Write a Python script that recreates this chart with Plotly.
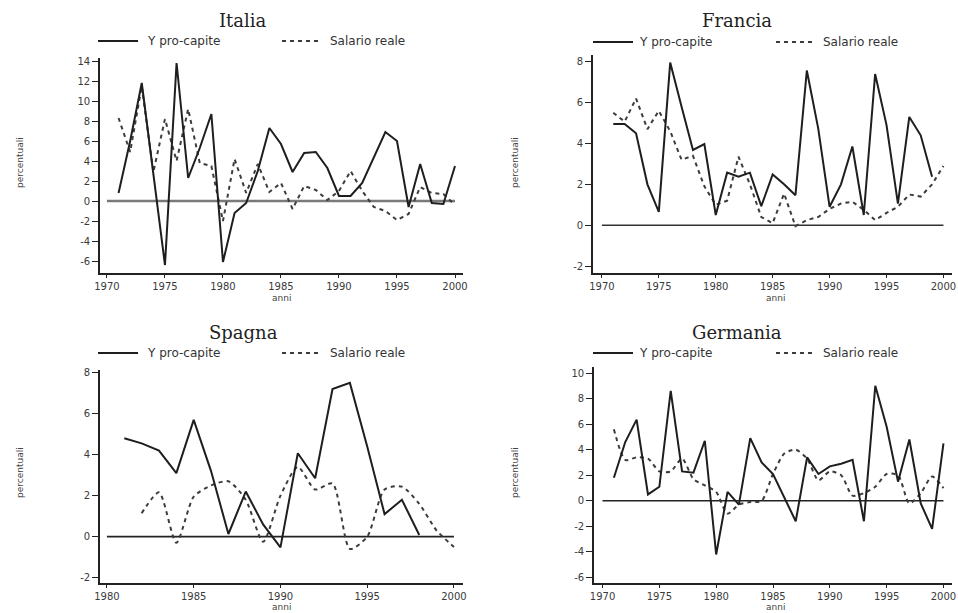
import plotly.graph_objects as go

W, H = 958, 613

# ---------------- data ----------------
years_70 = list(range(1971, 2001))
years_80 = list(range(1981, 2001))

italia_y = [0.8, 6.0, 11.8, 2.8, -6.4, 13.8, 2.3, 5.3, 8.7, -6.1, -1.2, -0.2, 3.0, 7.3, 5.7,
            2.9, 4.8, 4.9, 3.3, 0.5, 0.5, 1.8, 4.4, 6.9, 6.0, -0.6, 3.7, -0.2, -0.3, 3.5]
italia_w = [8.3, 4.9, 11.5, 2.9, 8.2, 4.0, 9.2, 3.8, 3.5, -2.0, 4.2, 0.8, 3.7, 0.9, 1.8,
            -0.8, 1.5, 1.1, 0.1, 1.0, 3.0, 1.0, -0.6, -1.0, -1.9, -1.3, 1.4, 0.8, 0.7, -0.4]

francia_y = [4.95, 4.95, 4.5, 2.0, 0.65, 7.96, 5.8, 3.68, 3.97, 0.5, 2.57, 2.37, 2.57, 0.93, 2.48,
             2.0, 1.47, 7.57, 4.74, 0.9, 2.0, 3.85, 0.5, 7.4, 4.9, 1.06, 5.3, 4.4, 2.37, None]
francia_w = [5.5, 5.07, 6.2, 4.7, 5.6, 4.6, 3.2, 3.4, 1.9, 1.0, 1.2, 3.35, 2.0, 0.4, 0.1,
             1.55, -0.05, 0.25, 0.4, 0.8, 1.06, 1.15, 0.75, 0.25, 0.6, 0.9, 1.5, 1.4, 2.0, 2.9]

spagna_y = [4.8, 4.55, 4.2, 3.1, 5.7, 3.2, 0.13, 2.2, 0.6, -0.52, 4.07, 2.85, 7.2, 7.5, 4.4,
            1.1, 1.8, 0.08, None, None]
spagna_w = [None, 1.14, 2.16, -0.3, 1.95, 2.5, 2.7, 1.8, -0.25, 2.0, 3.4, 2.3, 2.6, -0.6, 0.0,
            2.3, 2.44, 1.6, 0.3, -0.5]

germania_y = [1.8, 4.6, 6.35, 0.5, 1.1, 8.6, 2.3, 2.2, 4.7, -4.2, 0.7, -0.3, 4.9, 3.0, 2.1,
              0.3, -1.6, 3.4, 2.1, 2.7, 2.9, 3.2, -1.6, 9.0, 5.8, 1.5, 4.8, -0.2, -2.2, 4.5]
germania_w = [5.6, 3.2, 3.4, 3.3, 2.3, 2.3, 3.3, 1.7, 1.2, 0.7, -1.0, -0.3, -0.1, 0.0, 2.1,
              3.7, 4.0, 3.3, 1.6, 2.3, 2.0, 0.4, 0.6, 1.1, 2.1, 2.0, -0.2, 0.6, 1.9, 1.0]

xticks_70 = [1970, 1975, 1980, 1985, 1990, 1995, 2000]
xticks_80 = [1980, 1985, 1990, 1995, 2000]
yticks_it = [14, 12, 10, 8, 6, 4, 2, 0, -2, -4, -6]
yticks_fr = [8, 6, 4, 2, 0, -2]
yticks_sp = [8, 6, 4, 2, 0, -2]
yticks_de = [10, 8, 6, 4, 2, 0, -2, -4, -6]

legend_labels = ["Y pro-capite", "Salario reale"]
x_title = "anni"
y_title = "percentuali"

# ---------------- layout geometry (pixels) ----------------
panels = [
    dict(name="Italia", x=years_70, y=italia_y, w=italia_w, xt=xticks_70, yt=yticks_it,
         px=(100, 463), py=(58, 273), xr=(1969.40, 2000.69), yr=(-7.2, 14.3),
         zc="#7a7a7a", zw=2.6, wshape="linear",
         title=(243, 20), leg_y=41, leg=(98, 138, 145, 282, 320, 328), ytl=(20, 163), xtl=(281, 298)),
    dict(name="Francia", x=years_70, y=francia_y, w=francia_w, xt=xticks_70, yt=yticks_fr,
         px=(593, 952), py=(55, 273), xr=(1969.22, 2000.75), yr=(-2.34, 8.33),
         zc="#333333", zw=1.6, wshape="linear",
         title=(737, 20), leg_y=42, leg=(593, 633, 637, 776, 816, 821), ytl=(515, 163), xtl=(775, 298)),
    dict(name="Spagna", x=years_80, y=spagna_y, w=spagna_w, xt=xticks_80, yt=yticks_sp,
         px=(100, 463), py=(370, 583), xr=(1979.6, 2000.52), yr=(-2.26, 8.13),
         zc="#222222", zw=1.6, wshape="spline",
         title=(243, 332), leg_y=353, leg=(98, 138, 145, 282, 322, 328), ytl=(20, 473), xtl=(281, 607)),
    dict(name="Germania", x=years_70, y=germania_y, w=germania_w, xt=xticks_70, yt=yticks_de,
         px=(594, 952), py=(367, 583), xr=(1969.25, 2000.75), yr=(-6.43, 10.47),
         zc="#222222", zw=1.6, wshape="spline",
         title=(737, 332), leg_y=353, leg=(593, 633, 637, 776, 816, 821), ytl=(515, 473), xtl=(775, 607)),
]

def fx(p):
    return p / W

def fy(p):
    return 1 - p / H

fig = go.Figure()
annotations = []
shapes = []
tickfont = dict(family="DejaVu Sans", size=10, color="#3a3a3a")

for i, p in enumerate(panels, start=1):
    xa = "x" if i == 1 else f"x{i}"
    ya = "y" if i == 1 else f"y{i}"
    # zero reference line spanning the tick range
    fig.add_trace(go.Scatter(x=[min(p["xt"]), max(p["xt"])], y=[0, 0], mode="lines",
                             line=dict(color=p["zc"], width=p["zw"]),
                             xaxis=xa, yaxis=ya, showlegend=False, hoverinfo="skip"))
    fig.add_trace(go.Scatter(x=p["x"], y=p["w"], mode="lines", name=legend_labels[1],
                             line=dict(color="#3c3c3c", width=2, dash="4px,4px",
                                       shape=p["wshape"], smoothing=0.7),
                             connectgaps=False, xaxis=xa, yaxis=ya, showlegend=False))
    fig.add_trace(go.Scatter(x=p["x"], y=p["y"], mode="lines", name=legend_labels[0],
                             line=dict(color="#1e1e1e", width=2),
                             connectgaps=False, xaxis=xa, yaxis=ya, showlegend=False))

    axis_common = dict(showgrid=False, zeroline=False, showline=True, linecolor="#222",
                       linewidth=1.6, ticks="outside", tickcolor="#222", tickwidth=1.3,
                       tickfont=tickfont, fixedrange=True, automargin=False)
    fig.layout[("xaxis" if i == 1 else f"xaxis{i}")] = dict(
        domain=[fx(p["px"][0]), fx(p["px"][1])], range=list(p["xr"]), anchor=ya,
        tickmode="array", tickvals=p["xt"], ticktext=[str(t) for t in p["xt"]],
        ticklen=3, **axis_common)
    fig.layout[("yaxis" if i == 1 else f"yaxis{i}")] = dict(
        domain=[fy(p["py"][1]), fy(p["py"][0])], range=list(p["yr"]), anchor=xa,
        tickmode="array", tickvals=p["yt"], ticktext=[str(t) for t in p["yt"]],
        ticklen=6, **axis_common)

    # title
    annotations.append(dict(text=p["name"], x=fx(p["title"][0]), y=fy(p["title"][1]),
                            xref="paper", yref="paper", showarrow=False,
                            xanchor="center", yanchor="middle",
                            font=dict(family="DejaVu Serif", size=18, color="#222")))
    # legend samples
    s0, s1, t0, d0, d1, t1 = p["leg"]
    ly = fy(p["leg_y"])
    shapes.append(dict(type="line", xref="paper", yref="paper", x0=fx(s0), x1=fx(s1), y0=ly, y1=ly,
                       line=dict(color="#1e1e1e", width=2)))
    shapes.append(dict(type="line", xref="paper", yref="paper", x0=fx(d0), x1=fx(d1), y0=ly, y1=ly,
                       line=dict(color="#3c3c3c", width=2, dash="4px,4px")))
    annotations.append(dict(text=legend_labels[0], x=fx(t0), y=ly, xref="paper", yref="paper",
                            showarrow=False, xanchor="left", yanchor="middle",
                            font=dict(family="DejaVu Sans", size=12, color="#333")))
    annotations.append(dict(text=legend_labels[1], x=fx(t1), y=ly, xref="paper", yref="paper",
                            showarrow=False, xanchor="left", yanchor="middle",
                            font=dict(family="DejaVu Sans", size=12, color="#333")))
    # axis titles
    annotations.append(dict(text=y_title, x=fx(p["ytl"][0]), y=fy(p["ytl"][1]), xref="paper",
                            yref="paper", showarrow=False, textangle=-90,
                            xanchor="center", yanchor="middle",
                            font=dict(family="DejaVu Sans", size=9, color="#444")))
    annotations.append(dict(text=x_title, x=fx(p["xtl"][0]), y=fy(p["xtl"][1]), xref="paper",
                            yref="paper", showarrow=False, xanchor="center", yanchor="middle",
                            font=dict(family="DejaVu Sans", size=9, color="#444")))

fig.update_layout(width=W, height=H, margin=dict(l=0, r=0, t=0, b=0, autoexpand=False),
                  paper_bgcolor="white", plot_bgcolor="white",
                  annotations=annotations, shapes=shapes, showlegend=False)

fig.write_html("out.html", config={"displayModeBar": False},
               post_script="document.body.style.margin='0';document.body.style.overflow='hidden';")
